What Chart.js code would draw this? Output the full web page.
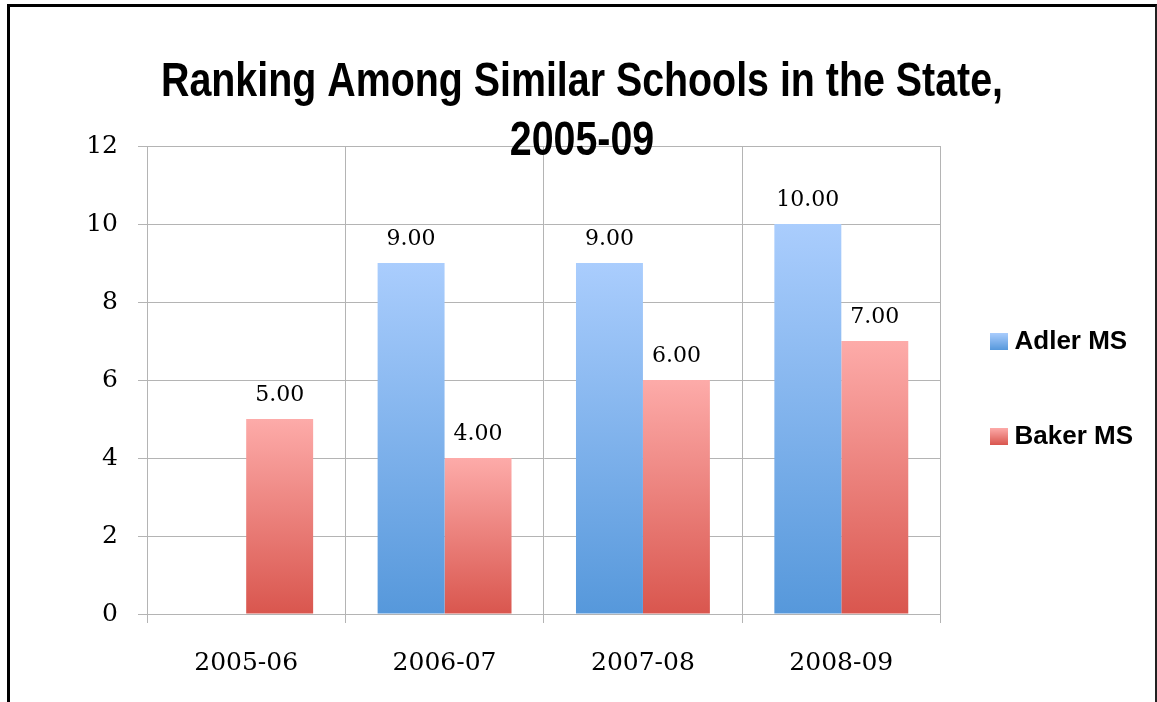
<!DOCTYPE html>
<html>
<head>
<meta charset="utf-8">
<script src="https://cdn.jsdelivr.net/npm/chart.js@4.4.1/dist/chart.umd.min.js"></script>
<style>
  html, body { margin: 0; padding: 0; background: #fff; }
  #wrap { position: relative; width: 1157px; height: 702px; }
  #frame {
    position: absolute; left: 7px; top: 4px; width: 1145px; height: 695px;
    border-top: 3px solid #000; border-left: 3px solid #000;
    border-right: 2px solid #222; border-bottom: 1px solid #c8c8c8;
    pointer-events: none;
  }
</style>
</head>
<body>
<div id="wrap">
  <canvas id="rankChart" width="1157" height="702"></canvas>
  <div id="frame"></div>
</div>
<script>
const seasons = ["2005-06", "2006-07", "2007-08", "2008-09"];
const adlerRank = [null, 9, 9, 10];
const bakerRank = [5, 4, 6, 7];
const titleLines = ["Ranking Among Similar Schools in the State,", "2005-09"];

const blueTop = "#aacdfd", blueBottom = "#5698db";
const redTop = "#fdaba9", redBottom = "#d9564e";

// vertical gradient per bar, from the bar top down to zero
function barGradient(top, bottom) {
  return function (ctx) {
    const chart = ctx.chart;
    if (!chart.chartArea || ctx.raw == null) return top;
    const y = chart.scales.y;
    const y0 = y.getPixelForValue(ctx.raw);
    const y1 = y.getPixelForValue(0);
    const g = chart.ctx.createLinearGradient(0, y0, 0, y1);
    g.addColorStop(0, top);
    g.addColorStop(1, bottom);
    return g;
  };
}

// small gradient swatch for the legend
function swatch(top, bottom) {
  const c = document.createElement("canvas");
  c.width = 18;
  c.height = 17;
  const x = c.getContext("2d");
  const g = x.createLinearGradient(0, 0, 0, 17);
  g.addColorStop(0, top);
  g.addColorStop(1, bottom);
  x.fillStyle = g;
  x.fillRect(0, 0, 18, 17);
  return c;
}
const swatches = [swatch(blueTop, blueBottom), swatch(redTop, redBottom)];

const valueLabels = {
  id: "valueLabels",
  afterDatasetsDraw(chart) {
    const ctx = chart.ctx;
    ctx.save();
    ctx.font = "22px 'DejaVu Serif'";
    ctx.fillStyle = "#000";
    ctx.textAlign = "center";
    ctx.textBaseline = "alphabetic";
    chart.data.datasets.forEach((ds, i) => {
      chart.getDatasetMeta(i).data.forEach((bar, j) => {
        const v = ds.data[j];
        if (v == null) return;
        ctx.fillText(v.toFixed(2), bar.x, bar.y - 18);
      });
    });
    ctx.restore();
  },
};

const chartTitle = {
  id: "chartTitle",
  afterDraw(chart) {
    const ctx = chart.ctx;
    ctx.save();
    ctx.font = "bold 48px 'Liberation Sans'";
    ctx.fillStyle = "#000";
    ctx.textAlign = "center";
    ctx.textBaseline = "alphabetic";
    // condensed face
    ctx.translate(582, 0);
    ctx.scale(0.82, 1);
    ctx.fillText(titleLines[0], 0, 96);
    ctx.fillText(titleLines[1], 0, 155);
    ctx.restore();
  },
};

// nudge the legend box a little left and up
const legendShift = {
  id: "legendShift",
  afterLayout(chart) {
    const lg = chart.legend;
    lg.left -= 14;
    lg.right -= 14;
    lg.top -= 35;
    lg.bottom -= 35;
  },
};

const gridColor = "#b4b4b4";

new Chart(document.getElementById("rankChart").getContext("2d"), {
  type: "bar",
  data: {
    labels: seasons,
    datasets: [
      {
        label: "Adler MS",
        data: adlerRank,
        backgroundColor: barGradient(blueTop, blueBottom),
        categoryPercentage: 0.675,
        barPercentage: 1,
      },
      {
        label: "Baker MS",
        data: bakerRank,
        backgroundColor: barGradient(redTop, redBottom),
        categoryPercentage: 0.675,
        barPercentage: 1,
      },
    ],
  },
  options: {
    responsive: false,
    animation: false,
    layout: { padding: { top: 146, left: 0, right: 0, bottom: 0 } },
    scales: {
      x: {
        grid: { color: gridColor, tickLength: 9, offset: true },
        border: { color: gridColor },
        ticks: {
          color: "#000",
          font: { family: "'DejaVu Serif'", size: 25 },
          padding: 25,
        },
        afterFit: (s) => { s.height = 88; },
      },
      y: {
        min: 0,
        max: 12,
        grid: { color: gridColor, tickLength: 9 },
        border: { color: gridColor },
        ticks: {
          stepSize: 2,
          color: "#000",
          font: { family: "'DejaVu Serif'", size: 25 },
          padding: 20,
        },
        afterFit: (s) => { s.width = 147; },
      },
    },
    plugins: {
      title: { display: false },
      tooltip: { enabled: false },
      legend: {
        position: "right",
        maxWidth: 217,
        labels: {
          color: "#000",
          font: { family: "'Liberation Sans'", size: 26, weight: "bold" },
          padding: 69,
          boxWidth: 18,
          boxHeight: 17,
          usePointStyle: true,
          pointStyleWidth: 6,
          generateLabels(chart) {
            const items = Chart.defaults.plugins.legend.labels.generateLabels(chart);
            items.forEach((it, i) => { it.pointStyle = swatches[i]; });
            return items;
          },
        },
      },
    },
  },
  plugins: [valueLabels, chartTitle, legendShift],
});
</script>
</body>
</html>
